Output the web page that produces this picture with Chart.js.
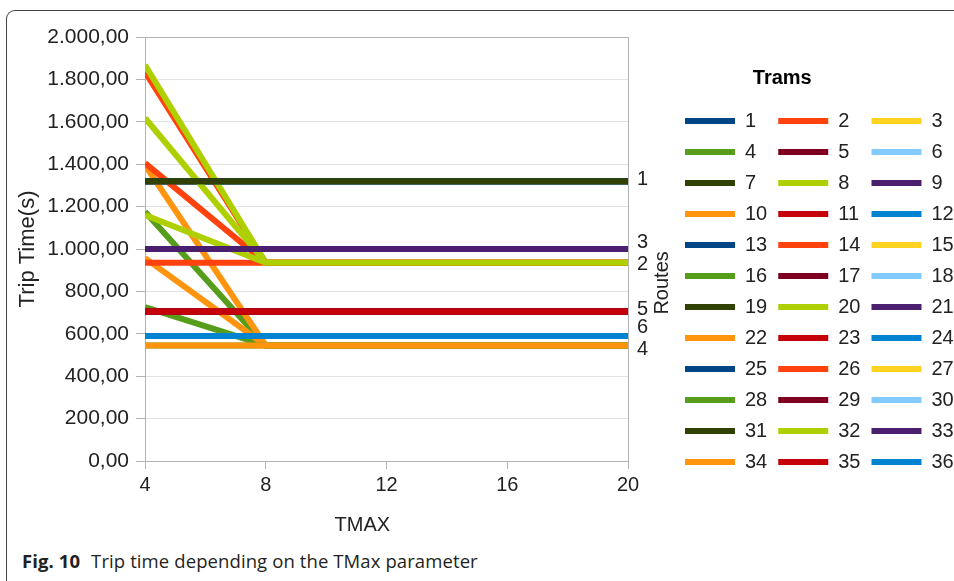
<!DOCTYPE html>
<html>
<head>
<meta charset="utf-8">
<script src="https://cdn.jsdelivr.net/npm/chart.js@4.4.1/dist/chart.umd.min.js"></script>
<style>
  html, body { margin: 0; padding: 0; background: #fff; }
  body { width: 954px; height: 581px; position: relative; overflow: hidden; }
  #frame { position: absolute; left: 6px; top: 10px; width: 1000px; height: 700px;
    border-top: 1px solid #444; border-left: 1px solid #444; border-top-left-radius: 9px; }
  #wrap { position: absolute; left: 0; top: 0; width: 954px; height: 545px; }
  #caption { position: absolute; left: 22px; top: 551px; line-height: 20px; letter-spacing: 0.1px;
    font-family: "Open Sans", "Noto Sans", sans-serif; font-size: 18.5px; color: #231f20; white-space: nowrap; }
  #caption b { margin-right: 6px; }
</style>
</head>
<body>
<div id="frame"></div>
<div id="wrap"><canvas id="tripChart"></canvas></div>
<div id="caption"><b>Fig. 10</b> Trip time depending on the TMax parameter</div>
<script>
// TMAX values on the x axis
const tmaxValues = [4, 8, 12, 16, 20];

const trams = ['1', '2', '3', '4', '5', '6', '7', '8', '9', '10', '11', '12',
  '13', '14', '15', '16', '17', '18', '19', '20', '21', '22', '23', '24',
  '25', '26', '27', '28', '29', '30', '31', '32', '33', '34', '35', '36'];

// trip time (s) of every tram, one array per TMAX value
const tripT4 = [1320, 1836, 1000, 1176, 705, 590, 1320, 1868, 1000, 1396, 705, 590,
  1320, 1405, 1000, 726, 705, 590, 1320, 1618, 1000, 957, 705, 590,
  1320, 935, 1000, 545, 705, 590, 1320, 1160, 1000, 545, 705, 590];
const tripT8 = [1320, 935, 1000, 545, 705, 590, 1320, 935, 1000, 545, 705, 590,
  1320, 935, 1000, 545, 705, 590, 1320, 935, 1000, 545, 705, 590,
  1320, 935, 1000, 545, 705, 590, 1320, 935, 1000, 545, 705, 590];
const tripT12 = [1320, 935, 1000, 545, 705, 590, 1320, 935, 1000, 545, 705, 590,
  1320, 935, 1000, 545, 705, 590, 1320, 935, 1000, 545, 705, 590,
  1320, 935, 1000, 545, 705, 590, 1320, 935, 1000, 545, 705, 590];
const tripT16 = [1320, 935, 1000, 545, 705, 590, 1320, 935, 1000, 545, 705, 590,
  1320, 935, 1000, 545, 705, 590, 1320, 935, 1000, 545, 705, 590,
  1320, 935, 1000, 545, 705, 590, 1320, 935, 1000, 545, 705, 590];
const tripT20 = [1320, 935, 1000, 545, 705, 590, 1320, 935, 1000, 545, 705, 590,
  1320, 935, 1000, 545, 705, 590, 1320, 935, 1000, 545, 705, 590,
  1320, 935, 1000, 545, 705, 590, 1320, 935, 1000, 545, 705, 590];

// route labels on the right, at the final trip time of the route
const routeNames = ['1', '2', '3', '4', '5', '6'];
const routeTimes = [1320, 935, 1000, 545, 705, 590];

const yTicks = [0, 200, 400, 600, 800, 1000, 1200, 1400, 1600, 1800, 2000];

const palette = ['#004586', '#ff420e', '#ffd320', '#579d1c', '#7e0021', '#83caff',
  '#314004', '#aecf00', '#4b1f6f', '#ff950e', '#c5000b', '#0084d1'];

const TXT = '#222';
const FONT = '"Liberation Sans", Arial, sans-serif';
Chart.defaults.font.family = FONT;
Chart.defaults.font.size = 20;
Chart.defaults.color = TXT;

function fmt(v) {
  // 2000 -> "2.000,00"
  const s = Math.round(v).toString().replace(/\B(?=(\d{3})+(?!\d))/g, '.');
  return s + ',00';
}

const byTmax = [tripT4, tripT8, tripT12, tripT16, tripT20];
const datasets = trams.map((name, i) => ({
  label: name,
  data: tmaxValues.map((t, k) => ({ x: t, y: byTmax[k][i] })),
  borderColor: palette[i % 12],
  backgroundColor: palette[i % 12],
  borderWidth: 6,
  pointRadius: 0,
  tension: 0,
  order: -i   // later trams on top, like the original
}));

// route labels, the two side titles and the legend title
const extraText = {
  id: 'extraText',
  afterDraw(chart) {
    const { ctx, chartArea, scales: { y }, legend } = chart;
    const items = routeNames.map((n, i) => ({ n, y: y.getPixelForValue(routeTimes[i]) - 2 }))
      .sort((a, b) => a.y - b.y);
    const gap = 22;
    for (let k = 1; k < items.length; k++) {
      if (items[k].y - items[k - 1].y < gap) {
        const m = (items[k].y + items[k - 1].y) / 2;
        items[k - 1].y = m - gap / 2;
        items[k].y = m + gap / 2;
      }
    }
    ctx.save();
    ctx.fillStyle = TXT;
    ctx.font = '20px ' + FONT;
    ctx.textBaseline = 'middle';
    ctx.textAlign = 'left';
    items.forEach(it => ctx.fillText(it.n, chartArea.right + 9, it.y));

    ctx.textAlign = 'center';
    ctx.fillText('TMAX', chartArea.left + (chartArea.right - chartArea.left) * 0.45, chartArea.bottom + 64);

    ctx.save();
    ctx.translate(chartArea.right + 34, chartArea.top + (chartArea.bottom - chartArea.top) * 0.58);
    ctx.rotate(-Math.PI / 2);
    ctx.fillText('Routes', 0, 0);
    ctx.restore();

    const hb = legend.legendHitBoxes;
    ctx.font = 'bold 20px ' + FONT;
    ctx.fillStyle = '#000';
    ctx.fillText('Trams', (hb[0].left + hb[hb.length - 1].left) / 2 + 4, hb[0].top - 33);
    ctx.restore();
  }
};

new Chart(document.getElementById('tripChart'), {
  type: 'line',
  data: { datasets },
  options: {
    responsive: true,
    maintainAspectRatio: false,
    animation: false,
    layout: { padding: { top: 37, left: 0, right: 0, bottom: 40 } },
    plugins: {
      tooltip: { enabled: false },
      legend: {
        position: 'right',
        align: 'start',
        maxWidth: 280,
        // title space is kept here, the text itself is drawn by extraText
        title: { display: true, text: 'Trams', color: 'rgba(0,0,0,0)',
          font: { size: 20, weight: 'bold' }, padding: { top: 31, bottom: 8 } },
        labels: {
          boxWidth: 50,
          boxHeight: 6,
          padding: 11,
          color: TXT,
          font: { size: 20 },
          generateLabels: chart => Chart.defaults.plugins.legend.labels.generateLabels(chart)
            .map(l => Object.assign(l, { lineWidth: 0 })),
          sort: (a, b) => {
            const key = i => (i % 3) * 12 + Math.floor(i / 3);
            return key(a.datasetIndex) - key(b.datasetIndex);
          }
        }
      }
    },
    scales: {
      x: {
        type: 'linear',
        min: 4,
        max: 20,
        ticks: { stepSize: 4, padding: 4, color: TXT },
        grid: {
          color: c => (c.tick && c.tick.value === 20 ? '#b3b3b3' : 'rgba(0,0,0,0)'),
          tickColor: '#b3b3b3',
          tickLength: 8
        },
        border: { color: '#b3b3b3' },
        afterFit: s => { s.height = 44; }
      },
      y: {
        min: 0,
        max: 2000,
        afterBuildTicks: s => { s.ticks = yTicks.map(v => ({ value: v })); },
        ticks: { callback: v => fmt(v), padding: 7, color: TXT, font: { size: 21 } },
        grid: {
          color: c => (c.tick && c.tick.value === 2000 ? '#b3b3b3' : '#e3e3e3'),
          tickColor: '#b3b3b3',
          tickLength: 9
        },
        border: { color: '#b3b3b3' },
        title: { display: true, text: 'Trip Time(s)', color: TXT, font: { size: 22 },
          padding: { top: 15, bottom: 0 } },
        afterFit: s => { s.width = 145; }
      },
      yR: {
        position: 'right',
        ticks: { display: false },
        grid: { display: false },
        border: { display: false },
        afterFit: s => { s.width = 46; }
      }
    }
  },
  plugins: [extraText]
});
</script>
</body>
</html>
